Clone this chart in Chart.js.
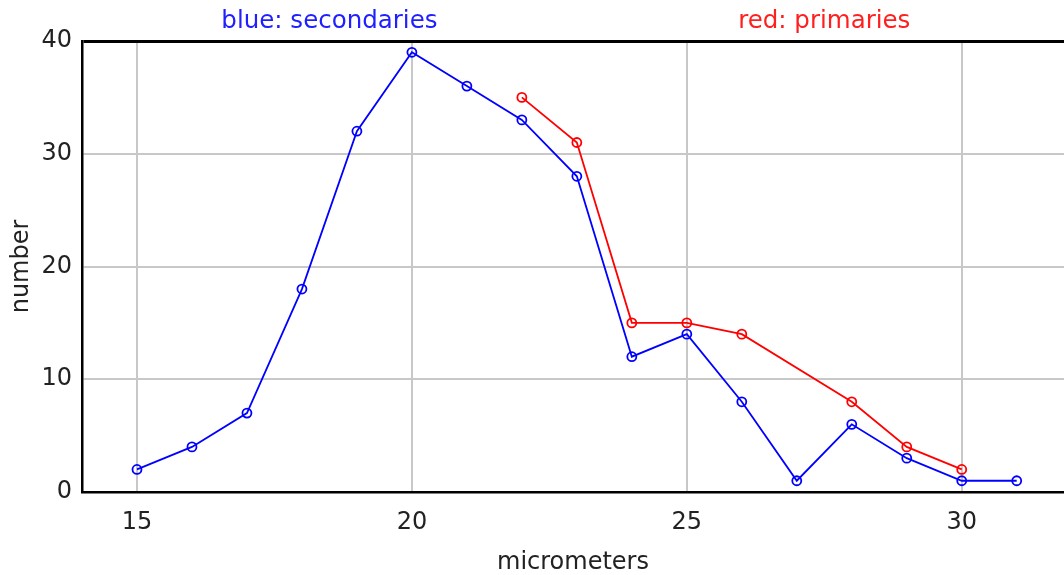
<!DOCTYPE html>
<html>
<head>
<meta charset="utf-8">
<script src="https://cdn.jsdelivr.net/npm/chart.js@4.4.0/dist/chart.umd.min.js"></script>
<style>
  body { margin: 0; background: #fff; overflow: hidden; }
  #wrap { width: 1064px; height: 575px; }
</style>
</head>
<body>
<div id="wrap"><canvas id="fibreChart"></canvas></div>
<script>
const secX = [15, 16, 17, 18, 19, 20, 21, 22, 23, 24, 25, 26, 27, 28, 29, 30, 31];
const secY = [2, 4, 7, 18, 32, 39, 36, 33, 28, 12, 14, 8, 1, 6, 3, 1, 1];
const primX = [22, 23, 24, 25, 26, 28, 29, 30];
const primY = [35, 31, 15, 15, 14, 8, 4, 2];
const xTicks = [15, 20, 25, 30];
const yTicks = [0, 10, 20, 30, 40];

const fontFamily = '"DejaVu Sans", sans-serif';
Chart.defaults.font.family = fontFamily;
Chart.defaults.font.size = 24;
Chart.defaults.color = '#222';

// series names written above the plot
const headerLabels = {
    id: 'headerLabels',
    afterDraw(chart) {
        const c = chart.ctx;
        const xs = chart.scales.x;
        c.save();
        c.font = '24.5px ' + fontFamily;
        c.textAlign = 'center';
        c.textBaseline = 'alphabetic';
        c.fillStyle = '#1f1fff';
        c.fillText('blue: secondaries', xs.getPixelForValue(18.5), 28);
        c.fillStyle = '#ff1f1f';
        c.fillText('red: primaries', xs.getPixelForValue(27.5), 28);
        c.restore();
    }
};

const ctx = document.getElementById('fibreChart').getContext('2d');
const fibreChart = new Chart(ctx, {
    type: 'line',
    data: {
        datasets: [{
            label: 'primaries',
            data: primX.map((x, i) => ({ x: x, y: primY[i] })),
            borderColor: '#ff0000',
            backgroundColor: 'rgba(0,0,0,0)',
            borderWidth: 1.8,
            pointRadius: 4.5,
            pointBorderWidth: 1.8,
            pointBorderColor: '#ff0000',
            pointBackgroundColor: 'rgba(0,0,0,0)',
            tension: 0
        }, {
            label: 'secondaries',
            data: secX.map((x, i) => ({ x: x, y: secY[i] })),
            borderColor: '#0000ff',
            backgroundColor: 'rgba(0,0,0,0)',
            borderWidth: 1.8,
            pointRadius: 4.5,
            pointBorderWidth: 1.8,
            pointBorderColor: '#0000ff',
            pointBackgroundColor: 'rgba(0,0,0,0)',
            tension: 0
        }]
    },
    options: {
        responsive: true,
        maintainAspectRatio: false,
        animation: false,
        layout: { autoPadding: false, padding: { top: 41, right: 0, left: 0, bottom: 0 } },
        plugins: {
            legend: { display: false },
            tooltip: { enabled: false }
        },
        scales: {
            x: {
                type: 'linear',
                min: 14,
                max: 31.86,
                afterBuildTicks: axis => { axis.ticks = xTicks.map(v => ({ value: v })); },
                afterFit: axis => {
                    axis.height = 83;
                    axis.paddingLeft = 0;
                    axis.paddingRight = 0;
                },
                grid: { color: '#c8c8c8', lineWidth: 2, drawTicks: false },
                border: { color: '#000', width: 2.5 },
                ticks: { padding: 16, autoSkip: false, maxRotation: 0 },
                title: {
                    display: true,
                    text: 'micrometers',
                    font: { lineHeight: 1 },
                    padding: { top: 0, bottom: 0 }
                }
            },
            y: {
                min: 0,
                max: 40,
                afterBuildTicks: axis => { axis.ticks = yTicks.map(v => ({ value: v })); },
                afterFit: axis => { axis.width = 82; },
                grid: {
                    color: c => (c.tick && c.tick.value === 40) ? '#000' : '#c8c8c8',
                    lineWidth: c => (c.tick && c.tick.value === 40) ? 3 : 2,
                    drawTicks: false
                },
                border: { color: '#000', width: 2.5 },
                ticks: { padding: 10 },
                title: { display: true, text: 'number', padding: { top: 7, bottom: 0 } }
            }
        }
    },
    plugins: [headerLabels]
});
</script>
</body>
</html>
